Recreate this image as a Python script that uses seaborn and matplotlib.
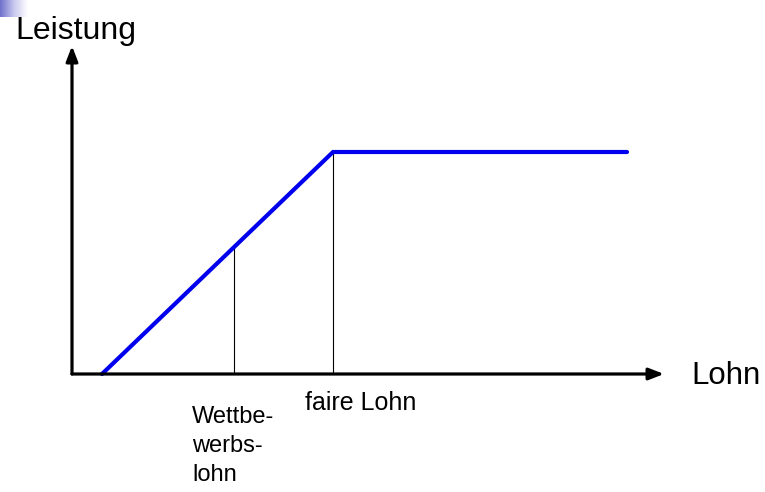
import numpy as np
import matplotlib
matplotlib.use("Agg")
import matplotlib.pyplot as plt
import seaborn as sns

# Daten: Leistung in Abhaengigkeit vom Lohn (beliebige Einheiten)
lohn = [1.0, 8.7, 18.5]
leistung = [0.0, 7.4, 7.4]
wettbewerbslohn = 5.4
fairer_lohn = 8.7

sns.set_style("white")
plt.rcParams['font.family'] = ['Liberation Sans', 'DejaVu Sans']
plt.rcParams['text.color'] = 'black'

fig = plt.figure(figsize=(7.65, 4.92), dpi=100)
W, H = 765, 492

# kleines Farbverlauf-Quadrat oben links (Folienrest)
deko = fig.add_axes([0, 1 - 17 / H, 28 / W, 17 / H])
grad = np.linspace(0, 1, 64).reshape(1, -1)
cmap = matplotlib.colors.LinearSegmentedColormap.from_list("g", ["#7070cc", "#c8c8ee", "#ffffff"])
deko.imshow(grad, aspect="auto", cmap=cmap, extent=[0, 1, 0, 1])
deko.axis("off")

# Achsen: Ursprung bei Pixel (72, 374), Pfeilspitzen bei x=664 und y=46
x0, y0, x1, y1 = 72, 374, 664, 46
ax = fig.add_axes([x0 / W, 1 - y0 / H, (x1 - x0) / W, (y0 - y1) / H])
ax.set_xlim(0, (x1 - x0) / 30)
ax.set_ylim(0, (y0 - y1) / 30)
ax.axis("off")

pfeil = dict(arrowstyle="-|>,head_length=0.9,head_width=0.35", color="black", lw=2.3,
             shrinkA=0, shrinkB=0)
ax.annotate("", xy=(1, 0), xytext=(0, 0), xycoords="axes fraction", arrowprops=pfeil)
ax.annotate("", xy=(0, 1), xytext=(0, 0), xycoords="axes fraction", arrowprops=pfeil)

# Hilfslinien
y_wb = np.interp(wettbewerbslohn, lohn, leistung)
y_fl = np.interp(fairer_lohn, lohn, leistung)
ax.plot([wettbewerbslohn, wettbewerbslohn], [0, y_wb], color="black", lw=0.8)
ax.plot([fairer_lohn, fairer_lohn], [0, y_fl], color="black", lw=0.8)

# Leistungskurve
sns.lineplot(x=lohn, y=leistung, color="#0000ee", lw=3, ax=ax, clip_on=False,
             solid_joinstyle="miter")

# Beschriftungen
fig.text(15 / W, 1 - 39 / H, "Leistung", fontsize=23, ha="left", va="baseline")
fig.text(691 / W, 1 - 384 / H, "Lohn", fontsize=22.5, ha="left", va="baseline")
fig.text(305 / W, 1 - 410 / H, "faire Lohn", fontsize=18, ha="left", va="baseline")
fig.text(192 / W, 1 - 481 / H, "Wettbe-\nwerbs-\nlohn", fontsize=17, ha="left", va="baseline",
         linespacing=1.4)

fig.savefig("out.png", dpi=100)
